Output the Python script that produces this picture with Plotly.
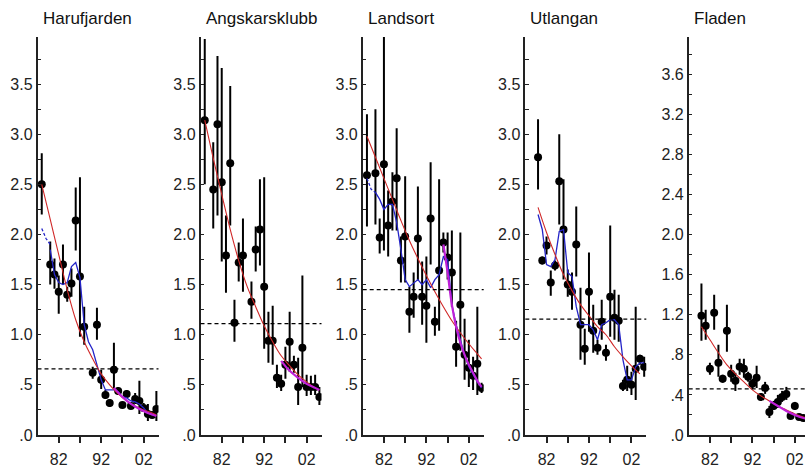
import plotly.graph_objects as go

FONT = "Liberation Sans, Arial, sans-serif"

titles = ["Harufjarden", "Angskarsklubb", "Landsort", "Utlangan", "Fladen"]

# ---------------- Harufjarden ----------------
haru_years = [1978, 1980, 1981, 1982, 1983, 1984, 1985, 1986, 1987, 1988, 1990, 1991, 1992,
              1993, 1994, 1995, 1996, 1997, 1998, 1999, 2000, 2001, 2002, 2003, 2004, 2005]
haru_vals = [2.50, 1.70, 1.60, 1.43, 1.70, 1.40, 1.51, 2.14, 1.58, 1.08, 0.62, 1.10, 0.55,
             0.40, 0.32, 0.65, 0.44, 0.30, 0.41, 0.29, 0.36, 0.34, 0.27, 0.21, 0.20, 0.26]
haru_lo = [2.20, 1.50, 1.46, 1.21, 1.50, 1.33, 1.38, 1.84, 0.98, 0.90, 0.56, 0.95, 0.46,
           0.36, 0.28, 0.46, 0.40, 0.27, 0.37, 0.26, 0.31, 0.21, 0.23, 0.14, 0.17, 0.14]
haru_hi = [2.81, 1.93, 1.76, 1.59, 1.90, 1.48, 1.66, 2.47, 2.57, 1.28, 0.68, 1.27, 0.65,
           0.45, 0.36, 0.92, 0.48, 0.33, 0.45, 0.32, 0.42, 0.54, 0.32, 0.31, 0.23, 0.44]
haru_red_years = [1978, 1980, 1982, 1984, 1986, 1988, 1990, 1992, 1994, 1996, 1998, 2000, 2002, 2004, 2005]
haru_red = [2.50, 2.15, 1.80, 1.45, 1.15, 0.93, 0.76, 0.61, 0.50, 0.41, 0.34, 0.29, 0.25, 0.22, 0.20]
haru_bluedash_years = [1978, 1979, 1980]
haru_bluedash = [2.06, 1.96, 1.90]
haru_blue_years = [1980, 1981, 1982, 1983, 1984, 1985, 1986, 1987, 1988, 1989, 1990, 1991, 1992,
                   1993, 1994, 1995, 1996, 1997, 1998, 1999, 2000, 2001, 2002, 2003, 2004, 2005]
haru_blue = [1.85, 1.60, 1.52, 1.50, 1.52, 1.68, 1.72, 1.57, 1.10, 0.93, 0.85, 0.70, 0.55,
             0.45, 0.45, 0.45, 0.43, 0.38, 0.37, 0.34, 0.33, 0.31, 0.27, 0.22, 0.20, 0.20]
haru_mag_years = [1995, 1997, 1999, 2001, 2003, 2005]
haru_mag = [0.47, 0.38, 0.31, 0.26, 0.22, 0.19]
haru_mean = 0.66

# ---------------- Angskarsklubb ----------------
angs_years = [1978, 1980, 1981, 1982, 1983, 1984, 1985, 1986, 1987, 1989, 1990, 1991, 1992,
              1993, 1994, 1995, 1996, 1997, 1998, 1999, 2000, 2001, 2002, 2003, 2004, 2005]
angs_vals = [3.14, 2.45, 3.10, 2.52, 1.79, 2.71, 1.12, 1.72, 1.79, 1.33, 1.85, 2.05, 1.48,
             0.94, 0.94, 0.57, 0.51, 0.70, 0.93, 0.70, 0.48, 0.87, 0.48, 0.48, 0.48, 0.38]
angs_lo = [2.50, 2.06, 2.19, 1.73, 1.42, 2.09, 0.93, 1.53, 1.43, 1.16, 1.63, 1.69, 0.86,
           0.72, 0.70, 0.47, 0.44, 0.56, 0.63, 0.62, 0.30, 0.48, 0.39, 0.40, 0.40, 0.30]
angs_hi = [3.95, 2.92, 3.78, 3.66, 2.19, 3.48, 1.35, 1.92, 2.16, 1.53, 2.08, 2.55, 2.57,
           1.23, 1.29, 0.70, 0.60, 0.88, 1.23, 0.79, 0.77, 1.59, 0.60, 0.59, 0.60, 0.48]
angs_red_years = [1978, 1980, 1982, 1984, 1986, 1988, 1990, 1992, 1994, 1996, 1998, 2000, 2002, 2004, 2005]
angs_red = [3.14, 2.76, 2.40, 2.05, 1.74, 1.48, 1.28, 1.09, 0.93, 0.79, 0.69, 0.60, 0.53, 0.47, 0.45]
angs_mag_years = [1996, 1998, 2000, 2002, 2004, 2005]
angs_mag = [0.74, 0.64, 0.57, 0.51, 0.47, 0.45]
angs_mean = 1.11

# ---------------- Landsort ----------------
land_years = [1978, 1980, 1981, 1982, 1983, 1984, 1985, 1986, 1987, 1988, 1989, 1990, 1991, 1992,
              1993, 1994, 1995, 1996, 1997, 1998, 1999, 2000, 2001, 2002, 2003, 2004, 2005]
land_vals = [2.59, 2.61, 1.97, 2.70, 2.09, 2.33, 2.56, 1.74, 1.98, 1.23, 1.38, 1.96, 1.38, 1.29,
             2.16, 1.13, 1.64, 1.92, 1.77, 1.62, 0.88, 1.30, 0.80, 0.67, 0.59, 0.71, 0.47]
land_lo = [2.08, 2.10, 1.81, 1.84, 1.78, 2.04, 2.04, 1.52, 1.52, 1.02, 1.17, 1.54, 1.10, 0.92,
           1.70, 0.99, 1.04, 1.82, 1.55, 1.28, 0.68, 0.84, 0.55, 0.48, 0.45, 0.40, 0.42]
land_hi = [3.20, 3.25, 2.16, 3.97, 2.44, 2.62, 3.06, 1.98, 2.58, 1.48, 1.62, 2.48, 1.73, 1.78,
           2.72, 1.28, 2.55, 2.02, 2.02, 2.04, 1.14, 2.02, 1.16, 0.95, 0.78, 1.28, 0.52]
land_red_years = [1978, 1980, 1982, 1984, 1986, 1988, 1990, 1992, 1994, 1996, 1998, 2000, 2002, 2004, 2005]
land_red = [2.98, 2.77, 2.56, 2.35, 2.14, 1.94, 1.76, 1.59, 1.43, 1.28, 1.14, 1.02, 0.91, 0.81, 0.76]
land_bluedash_years = [1978, 1979, 1980]
land_bluedash = [2.56, 2.45, 2.42]
land_blue_years = [1980, 1981, 1982, 1983, 1984, 1985, 1986, 1987, 1988, 1989, 1990, 1991, 1992,
                   1993, 1994, 1995, 1996, 1997, 1998, 1999, 2000, 2001, 2002, 2003, 2004, 2005]
land_blue = [2.42, 2.35, 2.25, 2.30, 2.30, 2.12, 1.85, 1.55, 1.48, 1.52, 1.55, 1.50, 1.55,
             1.47, 1.55, 1.60, 1.78, 1.75, 1.30, 1.10, 0.95, 0.80, 0.68, 0.60, 0.53, 0.47]
land_mag_years = [1996, 1997, 1998, 1999, 2000, 2001, 2002, 2003, 2004, 2005]
land_mag = [1.90, 1.62, 1.30, 1.08, 0.92, 0.80, 0.70, 0.62, 0.54, 0.48]
land_mean = 1.45

# ---------------- Utlangan ----------------
utla_years = [1980, 1981, 1982, 1983, 1984, 1985, 1986, 1987, 1988, 1989, 1990, 1991, 1992,
              1993, 1994, 1995, 1996, 1997, 1998, 1999, 2000, 2001, 2002, 2003, 2004, 2005]
utla_vals = [2.77, 1.74, 1.89, 1.52, 1.69, 2.53, 2.05, 1.50, 1.43, 1.90, 1.10, 0.86, 1.43,
             1.04, 0.87, 1.13, 0.82, 1.38, 1.17, 1.14, 0.49, 0.55, 0.50, 0.66, 0.76, 0.68]
utla_lo = [2.45, 1.70, 1.80, 1.39, 1.64, 2.10, 1.55, 1.38, 1.25, 1.58, 0.75, 0.70, 1.03,
           0.82, 0.80, 0.95, 0.74, 0.98, 0.95, 0.93, 0.44, 0.44, 0.40, 0.35, 0.70, 0.58]
utla_hi = [3.15, 1.78, 1.98, 1.64, 1.74, 3.00, 2.55, 1.65, 1.62, 2.28, 1.47, 1.06, 1.82,
           1.30, 0.95, 1.35, 0.90, 2.09, 1.45, 1.40, 0.55, 0.69, 0.63, 1.28, 0.80, 0.78]
utla_red_years = [1980, 1982, 1984, 1986, 1988, 1990, 1992, 1994, 1996, 1998, 2000, 2002, 2004]
utla_red = [2.27, 2.02, 1.80, 1.60, 1.44, 1.30, 1.19, 1.08, 1.00, 0.88, 0.78, 0.69, 0.61]
utla_blue_years = [1980, 1981, 1982, 1983, 1984, 1985, 1986, 1987, 1988, 1989, 1990, 1991, 1992,
                   1993, 1994, 1995, 1996, 1997, 1998, 1999, 2000, 2001, 2002, 2003, 2004, 2005]
utla_blue = [2.20, 2.05, 1.70, 1.68, 1.75, 2.03, 2.05, 1.62, 1.58, 1.28, 1.10, 1.10, 1.10,
             1.05, 0.95, 1.10, 1.12, 1.15, 1.15, 1.10, 0.75, 0.55, 0.55, 0.68, 0.72, 0.72]
utla_mean = 1.155

# ---------------- Fladen ----------------
flad_years = [1980, 1981, 1982, 1983, 1984, 1985, 1986, 1987, 1988, 1989, 1990, 1991, 1992,
              1993, 1994, 1995, 1996, 1997, 1998, 1999, 2000, 2001, 2002, 2003, 2004]
flad_vals = [1.19, 1.09, 0.66, 1.22, 0.72, 0.56, 1.04, 0.61, 0.54, 0.68, 0.66, 0.58, 0.51,
             0.57, 0.38, 0.47, 0.23, 0.29, 0.33, 0.38, 0.41, 0.19, 0.29, 0.18, 0.17]
flad_lo = [0.94, 0.95, 0.60, 1.05, 0.58, 0.52, 0.83, 0.53, 0.44, 0.60, 0.57, 0.53, 0.46,
           0.47, 0.34, 0.41, 0.17, 0.25, 0.27, 0.33, 0.35, 0.17, 0.25, 0.16, 0.15]
flad_hi = [1.51, 1.25, 0.72, 1.40, 0.90, 0.60, 1.30, 0.70, 0.62, 0.76, 0.76, 0.63, 0.56,
           0.69, 0.42, 0.53, 0.29, 0.34, 0.40, 0.44, 0.48, 0.21, 0.33, 0.20, 0.19]
flad_red_years = [1980, 1982, 1984, 1986, 1988, 1990, 1992, 1994, 1996, 1998, 2000, 2002, 2004, 2005]
flad_red = [1.08, 0.95, 0.82, 0.70, 0.61, 0.53, 0.45, 0.39, 0.34, 0.29, 0.25, 0.21, 0.18, 0.17]
flad_mag_years = [1996, 1998, 2000, 2002, 2004, 2005]
flad_mag = [0.34, 0.29, 0.24, 0.20, 0.17, 0.16]
flad_mean = 0.46

# ---------------- axis ticks ----------------
x_tickvals = [1982, 1987, 1992, 1997, 2002]
x_ticktext = ["82", "", "92", "", "02"]
y_tickvals_a = [0, 0.25, 0.5, 0.75, 1.0, 1.25, 1.5, 1.75, 2.0, 2.25, 2.5, 2.75, 3.0, 3.25, 3.5, 3.75]
y_ticktext_a = [".0", "", ".5", "", "1.0", "", "1.5", "", "2.0", "", "2.5", "", "3.0", "", "3.5", ""]
y_tickvals_b = [0, 0.2, 0.4, 0.6, 0.8, 1.0, 1.2, 1.4, 1.6, 1.8, 2.0, 2.2, 2.4, 2.6, 2.8, 3.0,
                3.2, 3.4, 3.6, 3.8]
y_ticktext_b = [".0", "", ".4", "", ".8", "", "1.2", "", "1.6", "", "2.0", "", "2.4", "", "2.8", "",
                "3.2", "", "3.6", ""]

panels = [
    dict(years=haru_years, vals=haru_vals, lo=haru_lo, hi=haru_hi,
         red=(haru_red_years, haru_red), blue=(haru_blue_years, haru_blue),
         bluedash=(haru_bluedash_years, haru_bluedash), mag=(haru_mag_years, haru_mag),
         mean=haru_mean, yt=(y_tickvals_a, y_ticktext_a)),
    dict(years=angs_years, vals=angs_vals, lo=angs_lo, hi=angs_hi,
         red=(angs_red_years, angs_red), blue=None, bluedash=None,
         mag=(angs_mag_years, angs_mag), mean=angs_mean, yt=(y_tickvals_a, y_ticktext_a)),
    dict(years=land_years, vals=land_vals, lo=land_lo, hi=land_hi,
         red=(land_red_years, land_red), blue=(land_blue_years, land_blue),
         bluedash=(land_bluedash_years, land_bluedash), mag=(land_mag_years, land_mag),
         mean=land_mean, yt=(y_tickvals_a, y_ticktext_a)),
    dict(years=utla_years, vals=utla_vals, lo=utla_lo, hi=utla_hi,
         red=(utla_red_years, utla_red), blue=(utla_blue_years, utla_blue),
         bluedash=None, mag=None, mean=utla_mean, yt=(y_tickvals_a, y_ticktext_a)),
    dict(years=flad_years, vals=flad_vals, lo=flad_lo, hi=flad_hi,
         red=(flad_red_years, flad_red), blue=None, bluedash=None,
         mag=(flad_mag_years, flad_mag), mean=flad_mean, yt=(y_tickvals_b, y_ticktext_b)),
]

W, H = 805, 467
# pixel extents of each panel's x axis
x_px = [(37.5, 158.5), (200.5, 321.5), (362.7, 483.7), (525.3, 646.3), (688.7, 805.0)]
PX_PER_YEAR = 121.0 / 28.5
X0 = 1977

RED = "#d02828"
BLUE = "#2424c8"
MAG = "#c020d8"

fig = go.Figure()
layout = {}
for i, p in enumerate(panels):
    n = "" if i == 0 else str(i + 1)
    xa, ya = "x" + n, "y" + n
    # data points with confidence intervals
    fig.add_trace(go.Scatter(
        x=p["years"], y=p["vals"], mode="markers",
        marker=dict(color="black", size=8),
        error_y=dict(type="data", symmetric=False,
                     array=[h - v for h, v in zip(p["hi"], p["vals"])],
                     arrayminus=[v - l for v, l in zip(p["vals"], p["lo"])],
                     color="black", thickness=2, width=0),
        xaxis=xa, yaxis=ya, showlegend=False, hoverinfo="skip"))
    if p["bluedash"]:
        fig.add_trace(go.Scatter(x=p["bluedash"][0], y=p["bluedash"][1], mode="lines",
                                 line=dict(color=BLUE, width=1.3, dash="3px,2px"),
                                 xaxis=xa, yaxis=ya, showlegend=False, hoverinfo="skip"))
    if p["blue"]:
        fig.add_trace(go.Scatter(x=p["blue"][0], y=p["blue"][1], mode="lines",
                                 line=dict(color=BLUE, width=1.3),
                                 xaxis=xa, yaxis=ya, showlegend=False, hoverinfo="skip"))
    fig.add_trace(go.Scatter(x=p["red"][0], y=p["red"][1], mode="lines",
                             line=dict(color=RED, width=1.1, shape="spline"),
                             xaxis=xa, yaxis=ya, showlegend=False, hoverinfo="skip"))
    if p["mag"]:
        fig.add_trace(go.Scatter(x=p["mag"][0], y=p["mag"][1], mode="lines",
                                 line=dict(color=MAG, width=2.2, shape="spline"),
                                 xaxis=xa, yaxis=ya, showlegend=False, hoverinfo="skip"))
    # mean level dashed line across the panel
    fig.add_shape(type="line", xref=xa + " domain", yref=ya, x0=0, x1=1,
                  y0=p["mean"], y1=p["mean"],
                  line=dict(color="black", width=1.2, dash="4px,3px"))

    px0, px1 = x_px[i]
    xmax = X0 + (px1 - px0) / PX_PER_YEAR
    layout["xaxis" + n] = dict(
        domain=[px0 / W, px1 / W], range=[X0, xmax], anchor=ya,
        showline=True, linecolor="#222", linewidth=1.5, mirror=False,
        ticks="outside", ticklen=6, tickwidth=1.5, tickcolor="#222",
        tickvals=x_tickvals, ticktext=x_ticktext, ticklabelstandoff=3,
        tickfont=dict(size=16, color="#222", family=FONT),
        showgrid=False, zeroline=False, fixedrange=True)
    layout["yaxis" + n] = dict(
        domain=[0, 1], range=[0, 3.97], anchor=xa,
        showline=True, linecolor="#222", linewidth=1.5,
        ticks="inside", ticklen=4, tickwidth=1.2, tickcolor="#222",
        tickvals=p["yt"][0], ticktext=p["yt"][1],
        tickfont=dict(size=16, color="#222", family=FONT),
        showgrid=False, zeroline=False, fixedrange=True)
    fig.add_annotation(text=titles[i], xref="paper", yref="paper",
                       x=(px0 + 3) / W, y=(435 - 19) / 398.0,
                       xanchor="left", yanchor="middle", showarrow=False,
                       font=dict(size=17, color="#111", family=FONT))

fig.update_layout(**layout)
fig.update_layout(width=W, height=H, margin=dict(l=0, r=0, t=37, b=32),
                  paper_bgcolor="white", plot_bgcolor="white",
                  font=dict(family=FONT, color="#222"), showlegend=False)

fig.write_html("out.html")
